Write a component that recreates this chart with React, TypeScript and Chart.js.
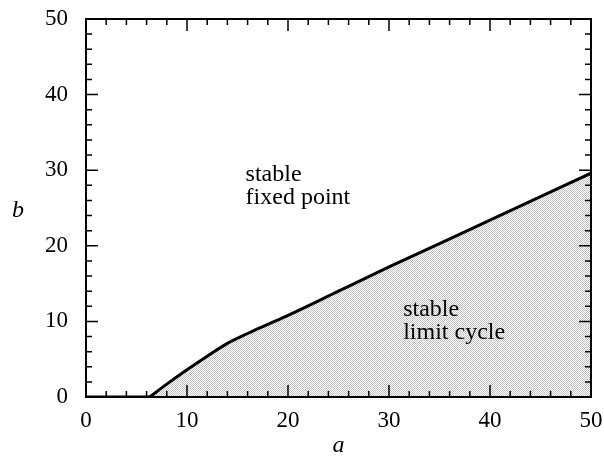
import React, { useEffect, useRef } from "react";
import { Chart, registerables } from "chart.js";

Chart.register(...registerables);

// Stability boundary b(a)
const boundaryA = [0, 6.3, 8, 10, 12, 14, 16, 18, 20, 25, 30, 35, 40, 45, 50];
const boundaryB = [0, 0, 1.7, 3.6, 5.4, 7.1, 8.4, 9.6, 10.8, 14.0, 17.2, 20.3, 23.4, 26.5, 29.6];

const xTickValues = [0, 10, 20, 30, 40, 50];
const yTickValues = [0, 10, 20, 30, 40, 50];

const regionLines = [
  ["stable", "fixed point"],
  ["stable", "limit cycle"],
];
const regionA = [15.8, 31.4];
const regionB = [28.6, 10.7];

const FONT = "'Liberation Serif', 'Times New Roman', serif";

export default function App() {
  const ref = useRef<HTMLCanvasElement | null>(null);

  useEffect(() => {
    const canvas = ref.current;
    if (!canvas) return;

    // stipple pattern
    const pc = document.createElement("canvas");
    pc.width = 2;
    pc.height = 2;
    const pctx = pc.getContext("2d")!;
    pctx.fillStyle = "#ffffff";
    pctx.fillRect(0, 0, 2, 2);
    pctx.fillStyle = "#c2c2c2";
    pctx.fillRect(0, 0, 1, 1);
    pctx.fillRect(1, 1, 1, 1);
    const pattern = canvas.getContext("2d")!.createPattern(pc, "repeat");

    const pts = boundaryA.map((a, i) => ({ x: a, y: boundaryB[i] }));
    const flatPart = pts.slice(0, 2);
    const curvePart = pts.slice(1);

    const framePlugin = {
      id: "frame",
      afterDatasetsDraw(chart: any) {
        const { ctx, chartArea } = chart;
        const xs = chart.scales.x;
        const ys = chart.scales.y;
        const { left, right, top, bottom } = chartArea;
        ctx.save();
        ctx.strokeStyle = "#000";
        ctx.lineWidth = 1.5;
        for (let v = 0; v <= 50; v += 2) {
          const major = v % 10 === 0;
          const len = major ? 12 : 6;
          const px = xs.getPixelForValue(v);
          const py = ys.getPixelForValue(v);
          ctx.beginPath();
          ctx.moveTo(px, bottom);
          ctx.lineTo(px, bottom - len);
          ctx.moveTo(px, top);
          ctx.lineTo(px, top + len);
          ctx.moveTo(left, py);
          ctx.lineTo(left + len, py);
          ctx.moveTo(right, py);
          ctx.lineTo(right - len, py);
          ctx.stroke();
        }
        ctx.lineWidth = 2;
        ctx.strokeRect(left, top, right - left, bottom - top);
        ctx.restore();
      },
      afterDraw(chart: any) {
        const { ctx, chartArea } = chart;
        const xs = chart.scales.x;
        const ys = chart.scales.y;
        ctx.save();
        ctx.fillStyle = "#000";
        ctx.font = `24px ${FONT}`;
        ctx.textAlign = "left";
        ctx.textBaseline = "alphabetic";
        regionLines.forEach((lines, i) => {
          const px = xs.getPixelForValue(regionA[i]);
          const py = ys.getPixelForValue(regionB[i]);
          lines.forEach((t, j) => ctx.fillText(t, px, py + j * 23));
        });
        ctx.font = `italic 24px ${FONT}`;
        ctx.textAlign = "center";
        ctx.textBaseline = "middle";
        ctx.fillText("a", (chartArea.left + chartArea.right) / 2, 446);
        ctx.fillText("b", 18, 211);
        ctx.restore();
      },
    };

    const chart = new Chart(canvas, {
      type: "line",
      data: {
        datasets: [
          {
            data: curvePart,
            borderColor: "#000",
            borderWidth: 3,
            pointRadius: 0,
            fill: "origin",
            backgroundColor: pattern as any,
            cubicInterpolationMode: "monotone",
          },
          {
            data: flatPart,
            borderColor: "#000",
            borderWidth: 3,
            pointRadius: 0,
            fill: false,
          },
        ],
      },
      options: {
        animation: false,
        responsive: false,
        maintainAspectRatio: false,
        layout: { padding: { top: 19, right: 13, left: 0, bottom: 0 } },
        plugins: { legend: { display: false }, tooltip: { enabled: false } },
        scales: {
          x: {
            type: "linear",
            min: 0,
            max: 50,
            afterBuildTicks: (s: any) => {
              s.ticks = xTickValues.map((v) => ({ value: v }));
            },
            afterFit: (s: any) => {
              s.height = 62;
              s.paddingLeft = 0;
              s.paddingRight = 0;
            },
            grid: { display: false, drawTicks: false },
            border: { display: false },
            ticks: {
              padding: 10,
              color: "#000",
              font: { family: FONT, size: 23 },
              maxRotation: 0,
            },
          },
          y: {
            type: "linear",
            min: 0,
            max: 50,
            afterBuildTicks: (s: any) => {
              s.ticks = yTickValues.map((v) => ({ value: v }));
            },
            afterFit: (s: any) => {
              s.width = 86;
              s.paddingTop = 0;
              s.paddingBottom = 0;
            },
            grid: { display: false, drawTicks: false },
            border: { display: false },
            ticks: {
              padding: 18,
              color: "#000",
              font: { family: FONT, size: 23 },
            },
          },
        },
      },
      plugins: [framePlugin],
    });

    return () => chart.destroy();
  }, []);

  return (
    <div style={{ position: "fixed", left: 0, top: 0, width: 604, height: 459, background: "#fff" }}>
      <canvas ref={ref} width={604} height={459} style={{ display: "block" }} />
    </div>
  );
}
